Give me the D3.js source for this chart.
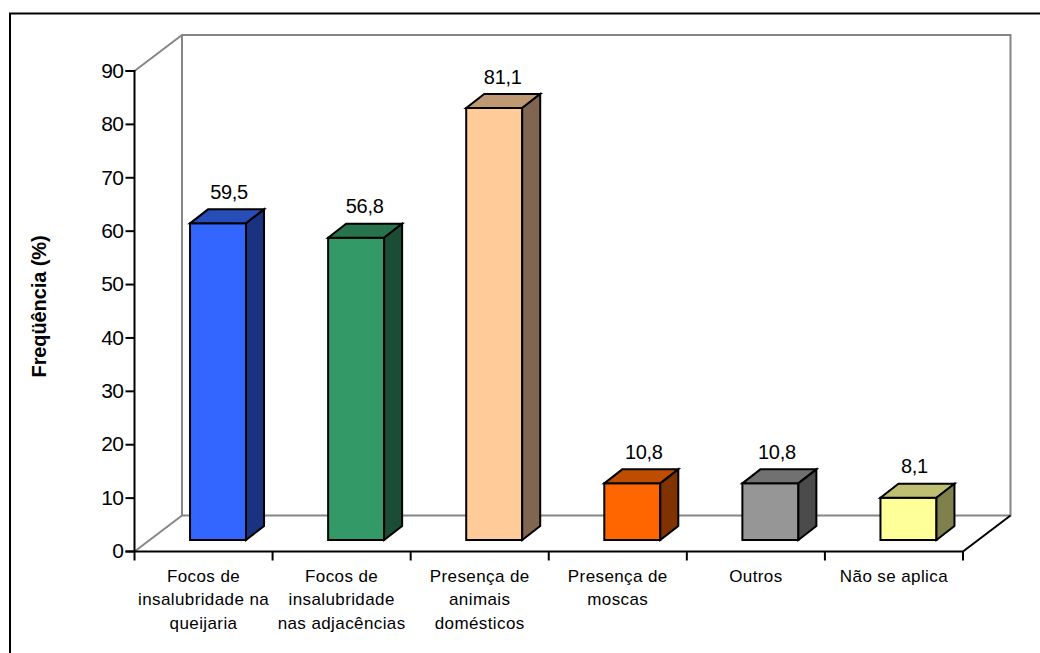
<!DOCTYPE html>
<html lang="pt">
<head>
<meta charset="utf-8">
<script src="https://cdn.jsdelivr.net/npm/d3@7"></script>
<style>
  html, body { margin: 0; padding: 0; background: #fff; }
  svg { display: block; }
  text { font-family: "Liberation Sans", Arial, sans-serif; fill: #000; }
</style>
</head>
<body>
<svg id="chart" width="1040" height="653"></svg>
<script>
const categories = [
  ["Focos de", "insalubridade na", "queijaria"],
  ["Focos de", "insalubridade", "nas adjacências"],
  ["Presença de", "animais", "domésticos"],
  ["Presença de", "moscas"],
  ["Outros"],
  ["Não se aplica"]
];
const values = [59.5, 56.8, 81.1, 10.8, 10.8, 8.1];
const valueLabels = ["59,5", "56,8", "81,1", "10,8", "10,8", "8,1"];
const frontColors = ["#3366ff", "#339966", "#ffcc99", "#ff6600", "#969696", "#ffff99"];
const topColors = ["#264db8", "#26734d", "#bf9973", "#bf4d00", "#717171", "#bfbf73"];
const sideColors = ["#1a3380", "#1a4d33", "#806650", "#803300", "#4b4b4b", "#80804d"];
const yTicks = [0, 10, 20, 30, 40, 50, 60, 70, 80, 90];
const yTitle = "Freqüência (%)";

const svg = d3.select("#chart");

// Front plane of the pseudo-3D box and the depth offset of the back wall
const x0 = 134.5, x1 = 963, yBase = 551.5, yTop = 71;
const wallDx = 47.5, wallDy = -36;
const barGapDx = 14.5, barTopDy = -10.5, barBottom = 540;
const barDepthDx = 18, barDepthDy = -14;
const barWidth = 56;
// Horizontal nudges of the value labels above each bar
const labelNudge = [0, -2.5, -2.5, 0.5, -4.5, -5];

const x = d3.scaleBand().domain(d3.range(categories.length)).range([x0, x1]);
const y = d3.scaleLinear().domain([0, 90]).range([yBase, yTop]);

// Outer frame, open towards the right and bottom edges
svg.append("path")
  .attr("d", "M10,653V13.5H1040")
  .attr("fill", "none").attr("stroke", "#000").attr("stroke-width", 2);

// Grey walls
const wall = svg.append("g").attr("fill", "none").attr("stroke", "#868686").attr("stroke-width", 2);
wall.append("path").attr("d", `M${x0},${yTop}L${x0 + wallDx},${yTop + wallDy}H${x1 + wallDx}V${yBase + wallDy}H${x0 + wallDx}V${yTop + wallDy}`);
wall.append("path").attr("d", `M${x0},${yBase}L${x0 + wallDx},${yBase + wallDy}`);

// Floor edge on the right
svg.append("path")
  .attr("d", `M${x1},${yBase}L${x1 + wallDx},${yBase + wallDy}`)
  .attr("fill", "none").attr("stroke", "#000").attr("stroke-width", 2);

// Bars: front, top and side faces
const bars = svg.append("g").attr("stroke", "#000").attr("stroke-width", 2).attr("stroke-linejoin", "miter");
values.forEach((v, i) => {
  const left = x(i) + x.bandwidth() / 2 - barWidth / 2 + barGapDx;
  const right = left + barWidth;
  const bottom = barBottom;
  const top = y(v) + barTopDy;
  bars.append("path").attr("fill", frontColors[i])
    .attr("d", `M${left},${top}H${right}V${bottom}H${left}Z`);
  bars.append("path").attr("fill", topColors[i])
    .attr("d", `M${left},${top}L${left + barDepthDx},${top + barDepthDy}H${right + barDepthDx}L${right},${top}Z`);
  bars.append("path").attr("fill", sideColors[i])
    .attr("d", `M${right},${top}L${right + barDepthDx},${top + barDepthDy}V${bottom + barDepthDy}L${right},${bottom}Z`);
  svg.append("text")
    .attr("x", left + barWidth / 2 + 11 + labelNudge[i])
    .attr("y", top + barDepthDy - 10.5)
    .attr("text-anchor", "middle")
    .attr("font-size", 20)
    .attr("letter-spacing", -0.3)
    .text(valueLabels[i]);
});

// Value axis
const yAxis = d3.axisLeft(y).tickValues(yTicks).tickSize(9).tickPadding(2).offset(0).tickFormat(d3.format("d"));
const yG = svg.append("g").attr("transform", `translate(${x0},0)`).call(yAxis);
yG.selectAll("path, line").attr("stroke", "#000").attr("stroke-width", 2);
yG.selectAll("text").attr("font-size", 21).attr("letter-spacing", -0.5).attr("font-family", null);

// Category axis with boundary ticks
const boundaries = d3.range(categories.length + 1).map(i => x0 + i * x.step());
const xAxis = d3.axisBottom(d3.scaleLinear().domain([x0, x1]).range([x0, x1]))
  .tickValues(boundaries).tickSize(9).tickSizeOuter(0).offset(0).tickFormat("");
const xG = svg.append("g").attr("transform", `translate(0,${yBase})`).call(xAxis);
xG.selectAll("path, line").attr("stroke", "#000").attr("stroke-width", 2);

// Multi-line category labels
const labels = svg.append("g").attr("text-anchor", "middle").attr("font-size", 17).attr("letter-spacing", 0.4);
categories.forEach((lines, i) => {
  const t = labels.append("text");
  lines.forEach((line, k) => {
    t.append("tspan")
      .attr("x", x(i) + x.bandwidth() / 2)
      .attr("y", 581.5 + k * 23.7)
      .text(line);
  });
});

// Value axis title
svg.append("text")
  .attr("transform", "translate(46,306.5) rotate(-90)")
  .attr("text-anchor", "middle")
  .attr("font-size", 20)
  .attr("font-weight", "bold")
  .attr("letter-spacing", -0.1)
  .text(yTitle);
</script>
</body>
</html>
